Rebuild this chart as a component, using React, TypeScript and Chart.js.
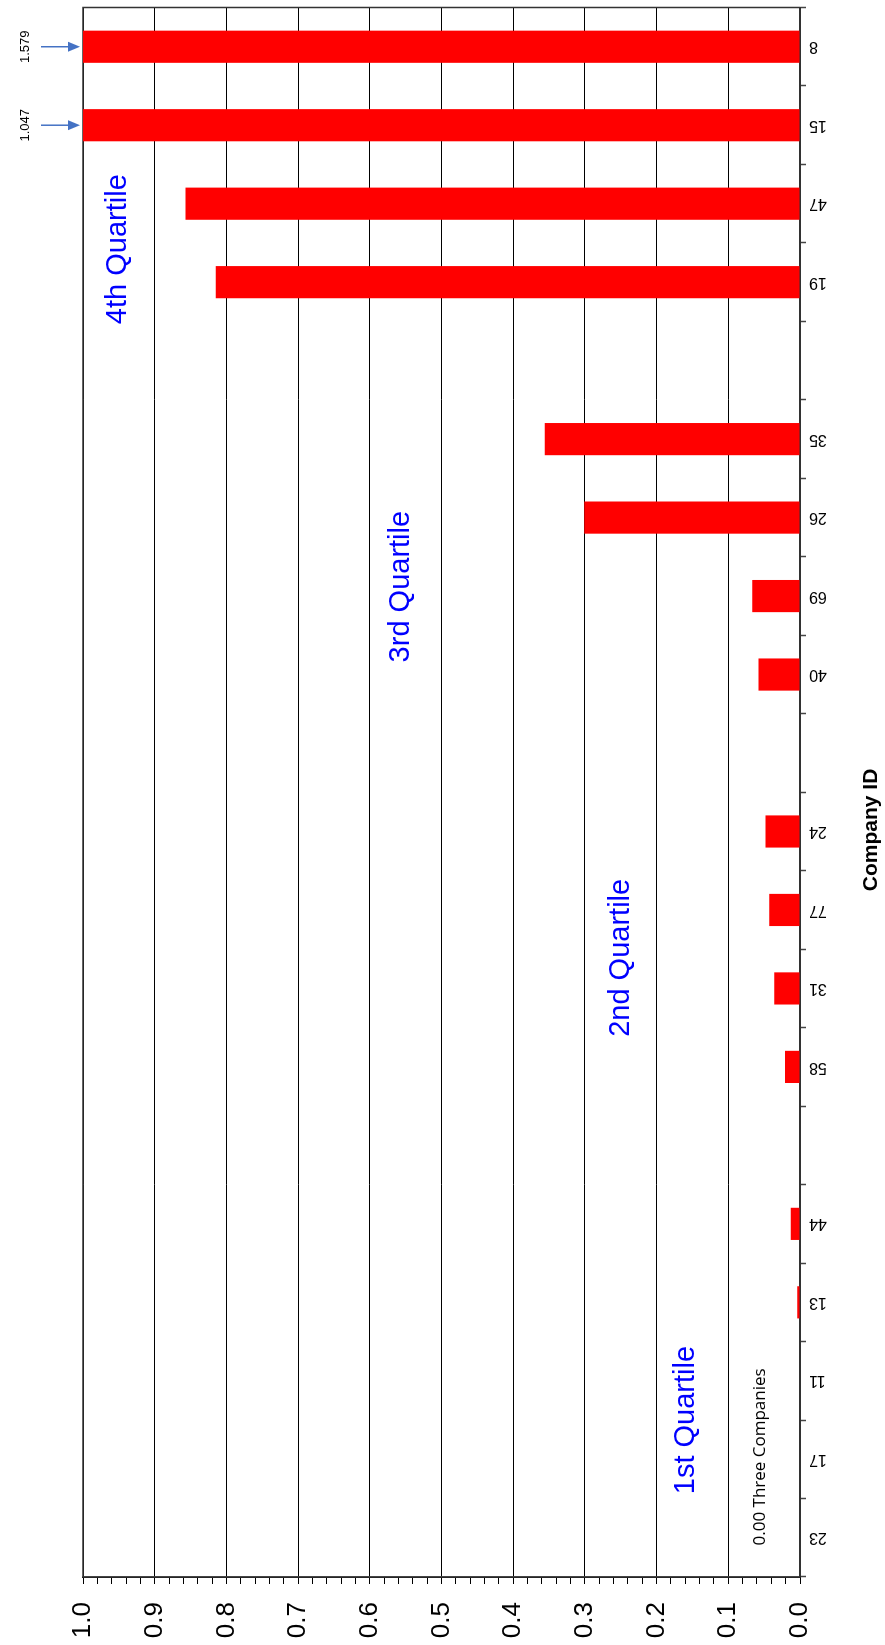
import React, { useEffect, useRef } from 'react';
import { Chart, registerables } from 'chart.js';

Chart.register(...registerables);

// Categories in original (unrotated) order, left to right; '' marks the gaps between quartiles
const companies = ['23', '17', '11', '13', '44', '', '58', '31', '77', '24', '', '40', '69', '26', '35', '', '19', '47', '15', '8'];
const values = [0, 0, 0, 0.004, 0.013, null, 0.021, 0.036, 0.043, 0.048, null, 0.058, 0.0665, 0.301, 0.356, null, 0.815, 0.857, 1.047, 1.579];

const quartileLabels = ['1st Quartile', '2nd Quartile', '3rd Quartile', '4th Quartile'];
const quartileIndex = [1.5, 7.39, 12.12, 16.42];
const quartileValue = [0.159, 0.25, 0.5565, 0.951];

const offscaleIds = ['15', '8'];
const offscaleText = ['1.047', '1.579'];

const noteText = '0.00 Three Companies';
const noteIndex = 1.03;
const noteValue = 0.0558;

const axisTitle = 'Company ID';
const axisTitleIndex = 9.02;

const SANS = "'Liberation Sans', Arial, Helvetica, sans-serif";

const isMajor = (v: number) => Math.abs(v * 10 - Math.round(v * 10)) < 1e-6;

export default function App() {
  const ref = useRef<HTMLCanvasElement>(null);

  useEffect(() => {
    const canvas = ref.current;
    if (!canvas) return;

    const borderPlugin = {
      id: 'plotBorder',
      beforeDatasetsDraw(chart: any) {
        const { ctx, chartArea: a } = chart;
        ctx.save();
        ctx.strokeStyle = '#333';
        ctx.lineWidth = 1.5;
        ctx.strokeRect(a.left, a.top, a.right - a.left, a.bottom - a.top);
        ctx.restore();
      },
    };

    const annotPlugin = {
      id: 'annot',
      afterDraw(chart: any) {
        const { ctx, chartArea: a, scales } = chart;
        const x = scales.x;
        const y = scales.y;
        ctx.save();
        // quartile labels
        ctx.fillStyle = '#0000FF';
        ctx.font = `29px ${SANS}`;
        ctx.textAlign = 'center';
        ctx.textBaseline = 'middle';
        quartileLabels.forEach((t, i) => {
          ctx.fillText(t, x.getPixelForValue(quartileIndex[i]), y.getPixelForValue(quartileValue[i]));
        });
        // note
        ctx.fillStyle = '#000';
        ctx.font = `17px 'Open Sans', ${SANS}`;
        ctx.fillText(noteText, x.getPixelForValue(noteIndex), y.getPixelForValue(noteValue));
        // off-scale values with arrows
        offscaleIds.forEach((id, i) => {
          const idx = companies.indexOf(id);
          const px = x.getPixelForValue(idx);
          ctx.fillStyle = '#000';
          ctx.font = `13px ${SANS}`;
          ctx.textAlign = 'center';
          ctx.textBaseline = 'middle';
          ctx.fillText(offscaleText[i], px, a.top - 58);
          const y0 = a.top - 42;
          const y1 = a.top - 3;
          ctx.strokeStyle = '#4472C4';
          ctx.fillStyle = '#4472C4';
          ctx.lineWidth = 1.5;
          ctx.beginPath();
          ctx.moveTo(px, y0);
          ctx.lineTo(px, y1 - 10);
          ctx.stroke();
          ctx.beginPath();
          ctx.moveTo(px - 5, y1 - 12);
          ctx.lineTo(px + 5, y1 - 12);
          ctx.lineTo(px, y1);
          ctx.closePath();
          ctx.fill();
        });
        // axis title
        ctx.fillStyle = '#000';
        ctx.font = `bold 21px ${SANS}`;
        ctx.textAlign = 'center';
        ctx.textBaseline = 'middle';
        ctx.fillText(axisTitle, x.getPixelForValue(axisTitleIndex), a.bottom + 71);
        ctx.restore();
      },
    };

    const chart = new Chart(canvas, {
      type: 'bar',
      data: {
        labels: companies,
        datasets: [
          {
            data: values as any,
            backgroundColor: '#FF0000',
            borderWidth: 0,
            categoryPercentage: 1,
            barPercentage: 0.41,
          },
        ],
      },
      options: {
        responsive: false,
        animation: false,
        events: [],
        layout: { padding: { top: 83, right: 7.5, left: 0, bottom: 0 } },
        plugins: {
          legend: { display: false },
          tooltip: { enabled: false },
        },
        scales: {
          x: {
            type: 'category',
            offset: true,
            grid: {
              offset: true,
              drawOnChartArea: false,
              drawTicks: true,
              tickLength: 6,
              tickColor: '#444',
              tickWidth: 1.5,
            },
            border: { display: true, color: '#333', width: 2 },
            ticks: {
              autoSkip: false,
              minRotation: 90,
              maxRotation: 90,
              padding: 3,
              color: '#000',
              font: { family: SANS, size: 16 },
            },
            afterFit(scale: any) {
              scale.height = 85;
            },
          },
          y: {
            type: 'linear',
            min: 0,
            max: 1,
            grid: {
              color: (c: any) => (c.tick && isMajor(c.tick.value) ? '#000' : 'rgba(0,0,0,0)'),
              tickColor: '#000',
              lineWidth: 1,
              tickLength: 7,
              drawTicks: true,
            },
            border: { display: true, color: '#000', width: 1.5 },
            ticks: {
              stepSize: 0.02,
              autoSkip: false,
              padding: 18,
              color: '#000',
              font: { family: SANS, size: 26 },
              callback: (v: any) => (isMajor(Number(v)) ? Number(v).toFixed(1) : ''),
            },
            afterFit(scale: any) {
              scale.width = 68;
            },
          },
        },
      },
      plugins: [borderPlugin, annotPlugin],
    } as any);

    return () => chart.destroy();
  }, []);

  return (
    <div
      style={{
        position: 'absolute',
        left: 0,
        top: 0,
        width: 1645,
        height: 885,
        transformOrigin: '0 0',
        transform: 'translateY(1645px) rotate(-90deg)',
        background: '#fff',
      }}
    >
      <canvas ref={ref} width={1645} height={885} style={{ display: 'block' }} />
    </div>
  );
}
